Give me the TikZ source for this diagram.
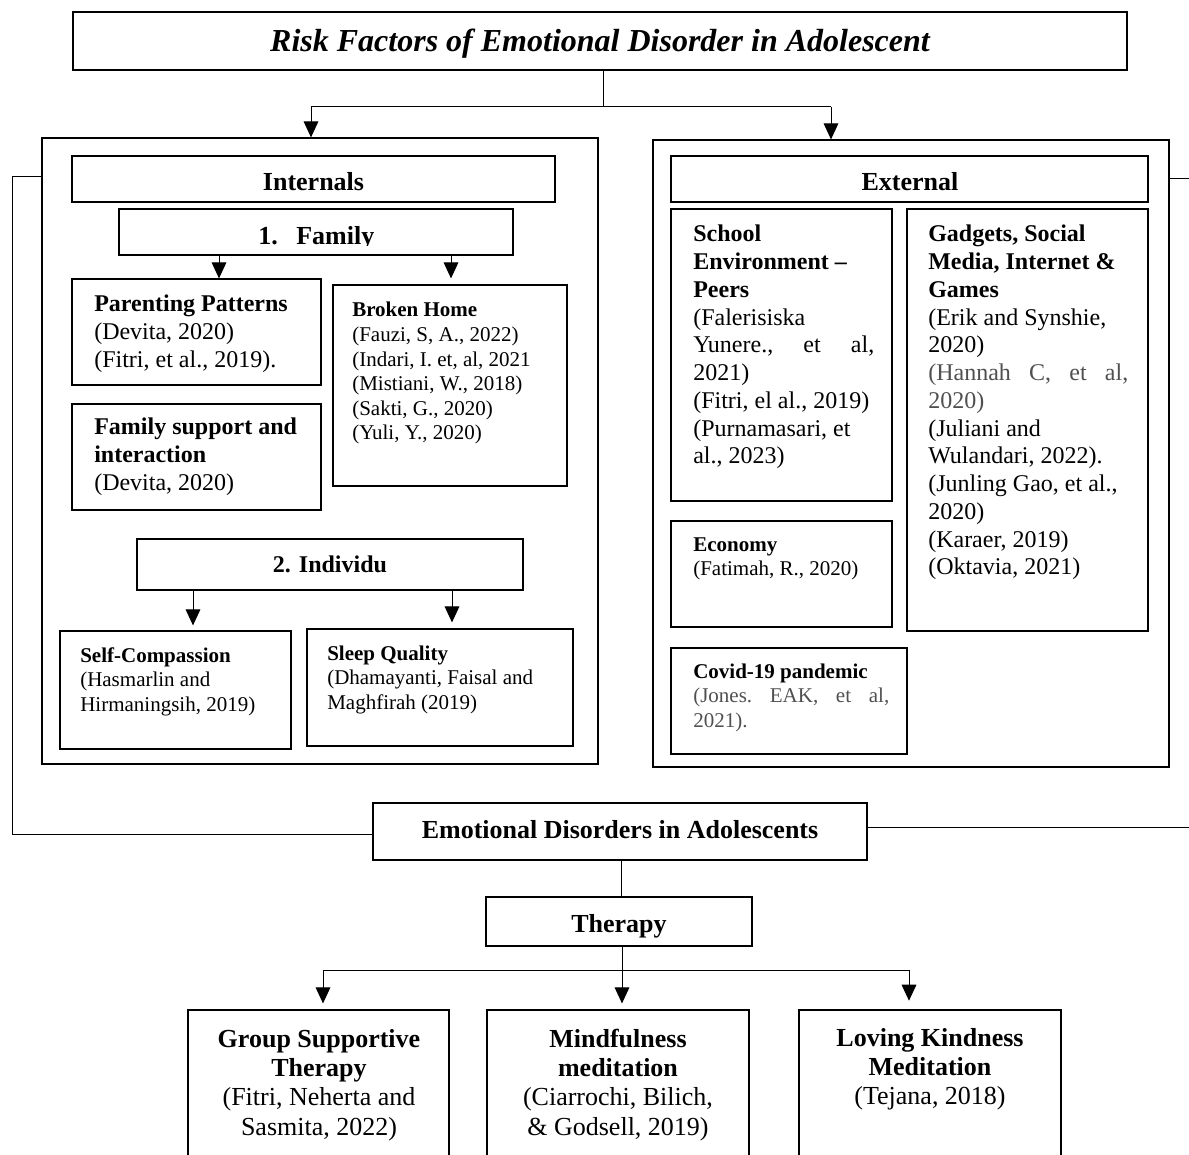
\documentclass[tikz,border=0pt]{standalone}
\usepackage{fontspec}
\setmainfont{Liberation Serif}
\usetikzlibrary{arrows.meta}
\definecolor{gtxt}{RGB}{80,80,80}
\newcommand\bx[6][]{\node[boxsty,#1,minimum width={(#5-#3)*0.75pt},minimum height={(#6-#4)*0.75pt}] (#2) at ({(#3+#5)/2},{(#4+#6)/2}) {};}
\newcommand\ftitle{\fontsize{24pt}{28pt}\selectfont\bfseries\itshape}
\newcommand\fhead{\fontsize{19.5pt}{22pt}\selectfont\bfseries}
\newcommand\fmed{\fontsize{18pt}{20.8pt}\selectfont}
\newcommand\fsmall{\fontsize{15.75pt}{18.4pt}\selectfont}
\newcommand\fbot{\fontsize{19.5pt}{22pt}\selectfont}
\tikzset{
  boxsty/.style={draw,line width=0.9pt,inner sep=0pt,anchor=center},
  con/.style={line width=0.75pt},
  arr/.style={con,-{Triangle[length=12pt,width=11pt]}},
  txt/.style={inner sep=0pt,anchor=base west},
}
\begin{document}
\begin{tikzpicture}[x=0.75pt,y=-0.75pt]
\useasboundingbox (0,0) rectangle (1189,1155);
\fill[white] (0,0) rectangle (1189,1155);

% boxes
\bx[line width=1.1pt]{title}{73}{12}{1127}{70}
\bx{intframe}{42}{138}{598}{764}
\bx{extframe}{653}{140}{1169}{767}
\bx{internals}{72}{156}{555}{202}
\bx{family}{119}{209}{513}{255}
\bx{parent}{72}{279}{321}{385}
\bx{broken}{333}{285}{567}{486}
\bx{support}{72}{404}{321}{510}
\bx{individu}{137}{539}{523}{590}
\bx{selfc}{60}{631}{291}{749}
\bx{sleep}{307}{629}{573}{746}
\bx{external}{671}{156}{1148}{202}
\bx{school}{671}{209}{892}{501}
\bx{gadget}{907}{209}{1148}{631}
\bx{economy}{671}{521}{892}{627}
\bx{covid}{671}{648}{907}{754}
\bx{emo}{373}{803}{867}{860}
\bx{therapy}{486}{897}{752}{946}
\bx{group}{188}{1010}{449}{1175}
\bx{mind}{487}{1010}{749}{1175}
\bx{loving}{799}{1010}{1061}{1175}

% texts
\node[txt,anchor=base] (titleT) at (600,52) {\ftitle Risk Factors of Emotional Disorder in Adolescent};
\node[txt,anchor=base] (internalsT) at (313.5,191) {\fhead Internals};
\node[txt,anchor=base] (externalT) at (910,191) {\fhead External};
\begin{scope}
\clip (119,209) rectangle (513,246);
\node[txt] (familyT) at (258,245) {\fhead\makebox[28.5pt][l]{1.}Family};
\end{scope}
\node[txt,anchor=base] (individuT) at (330,572) {\fmed\bfseries 2. Individu};
\node[txt,anchor=base] (emoT) at (620,838) {\fhead Emotional Disorders in Adolescents};
\node[txt,anchor=base] (therapyT) at (619,932) {\fhead Therapy};

\node[txt] (parentT) at (94,312) {\fmed\parbox[t]{180pt}{\raggedright\textbf{Parenting Patterns}\\(Devita, 2020)\\(Fitri, et al., 2019).}};
\node[txt] (supportT) at (94,435) {\fmed\parbox[t]{180pt}{\raggedright\textbf{Family support and}\\\textbf{interaction}\\(Devita, 2020)}};
\node[txt] (brokenT) at (352,317) {\fsmall\parbox[t]{165pt}{\raggedright\textbf{Broken Home}\\(Fauzi, S, A., 2022)\\(Indari, I. et, al, 2021\\(Mistiani, W., 2018)\\(Sakti, G., 2020)\\(Yuli, Y., 2020)}};
\node[txt] (selfcT) at (80,662) {\fsmall\parbox[t]{165pt}{\raggedright\textbf{Self-Compassion}\\(Hasmarlin and\\Hirmaningsih, 2019)}};
\node[txt] (sleepT) at (327,660) {\fsmall\parbox[t]{185pt}{\raggedright\textbf{Sleep Quality}\\(Dhamayanti, Faisal and\\Maghfirah (2019)}};

\node[txt] (schoolT) at (693,242) {\fmed\parbox[t]{135.75pt}{\raggedright\textbf{School}\\\textbf{Environment –}\\\textbf{Peers}\\(Falerisiska\\Yunere.,\hfill et\hfill al,\\2021)\\(Fitri, el al., 2019)\\(Purnamasari, et\\al., 2023)}};
\node[txt] (gadgetT) at (928,242) {\fmed\parbox[t]{150pt}{\raggedright\textbf{Gadgets, Social}\\\textbf{Media, Internet \&}\\\textbf{Games}\\(Erik and Synshie,\\2020)\\\leavevmode\textcolor{gtxt}{(Hannah\hfill C,\hfill et\hfill al,}\\\leavevmode\textcolor{gtxt}{2020)}\\(Juliani and\\Wulandari, 2022).\\(Junling Gao, et al.,\\2020)\\(Karaer, 2019)\\(Oktavia, 2021)}};
\node[txt] (economyT) at (693,551) {\fsmall\parbox[t]{150pt}{\raggedright\textbf{Economy}\\(Fatimah, R., 2020)}};
\node[txt] (covidT) at (693,678) {\fsmall\parbox[t]{147pt}{\raggedright\textbf{Covid-19 pandemic}\\\leavevmode\textcolor{gtxt}{(Jones.\hfill EAK,\hfill et\hfill al,}\\\leavevmode\textcolor{gtxt}{2021).}}};

\node[txt,anchor=base] (groupT) at (319,1047) {\fbot\parbox[t]{190pt}{\centering\textbf{Group Supportive}\\\textbf{Therapy}\\(Fitri, Neherta and\\Sasmita, 2022)}};
\node[txt,anchor=base] (mindT) at (618,1047) {\fbot\parbox[t]{190pt}{\centering\textbf{Mindfulness}\\\textbf{meditation}\\(Ciarrochi, Bilich,\\\& Godsell, 2019)}};
\node[txt,anchor=base] (lovingT) at (930,1046) {\fbot\parbox[t]{190pt}{\centering\textbf{Loving Kindness}\\\textbf{Meditation}\\(Tejana, 2018)}};

% connectors
\coordinate (tj) at (603,107);
\coordinate (aL) at (311,107);
\coordinate (aR) at (831,107);
\draw[con] (title.south -| tj) -- (tj);
\draw[con] (aL) -- (aR);
\draw[arr] (aL) -- (aL |- intframe.north);
\draw[arr] (aR) -- (aR |- extframe.north);

\coordinate (fA) at (219,0);
\coordinate (fB) at (451,0);
\draw[arr] (family.south -| fA) -- (parent.north -| fA);
\draw[arr] (family.south -| fB) -- (parent.north -| fB);

\coordinate (iA) at (193,0);
\coordinate (iB) at (452,0);
\draw[arr,shorten >=3.75pt] (individu.south -| iA) -- (selfc.north -| iA);
\draw[arr,shorten >=4.5pt] (individu.south -| iB) -- (sleep.north -| iB);

\coordinate (lJ1) at (12,177);
\coordinate (lJ2) at (12,834);
\draw[con] (intframe.west |- lJ1) -- (lJ1) -- (lJ2) -- (emo.west |- lJ2);
\coordinate (rJ1) at (1193,179);
\coordinate (rJ2) at (1193,827);
\draw[con] (extframe.east |- rJ1) -- (rJ1) -- (rJ2) -- (emo.east |- rJ2);

\coordinate (ex) at (621,0);
\draw[con] (emo.south -| ex) -- (therapy.north -| ex);
\coordinate (bj) at (622,970);
\coordinate (bL) at (323,970);
\coordinate (bR) at (909,970);
\draw[con] (therapy.south -| bj) -- (bj);
\draw[con] (bL) -- (bR);
\draw[arr,shorten >=4.5pt] (bL) -- (bL |- group.north);
\draw[arr,shorten >=4.5pt] (bj) -- (bj |- mind.north);
\draw[arr,shorten >=6.5pt] (bR) -- (bR |- loving.north);
\end{tikzpicture}
\end{document}
